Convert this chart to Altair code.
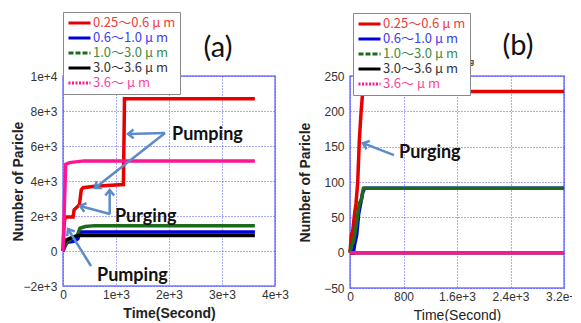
import math
import altair as alt
import pandas as pd

# ---------------- data ----------------
SERIES = ["0.25〜0.6 μ m", "0.6〜1.0 μ m", "1.0〜3.0 μ m", "3.0〜3.6 μ m", "3.6〜 μ m"]
LINE_COLORS = ["#e60000", "#0000dd", "#1b6b1b", "#000000", "#ff1493"]
LABEL_COLORS = ["#f03c3c", "#3c3cf0", "#3f8a3f", "#333333", "#ff3fa0"]

# panel (a)
a_red_t = [0, 20, 40, 190, 210, 310, 345, 380, 600, 1140, 1148, 1152, 1160, 3620]
a_red_v = [0, 1500, 1950, 1950, 2350, 2650, 3500, 3620, 3700, 3800, 5800, 6600, 8700, 8700]
a_blue_t = [0, 40, 80, 200, 280, 320, 3620]
a_blue_v = [0, 300, 500, 550, 700, 1080, 1080]
a_green_t = [0, 60, 200, 270, 320, 420, 600, 3620]
a_green_v = [0, 500, 800, 900, 1300, 1400, 1450, 1450]
a_black_t = [0, 40, 150, 300, 3620]
a_black_v = [0, 600, 750, 880, 880]
a_pink_t = [0, 30, 50, 120, 400, 3620]
a_pink_v = [0, 3000, 4950, 5050, 5150, 5150]

# panel (b)
b_red_t = [0, 20, 40, 65, 90, 115, 140, 165, 190, 3200]
b_red_v = [0, 25, 30, 52, 70, 99, 160, 198, 228, 228]
b_blue_t = [0, 50, 70, 100, 130, 160, 190, 220, 3200]
b_blue_v = [0, 0, 12, 25, 55, 70, 85, 91, 91]
b_green_t = [0, 20, 50, 80, 110, 140, 170, 200, 3200]
b_green_v = [0, 10, 15, 30, 50, 70, 75, 91, 91]
b_black_t = [0, 3200]
b_black_v = [0, 0]
b_pink_t = [0, 3200]
b_pink_v = [0, 0]

# annotations (a)
a_note_text = ["Pumping", "Purging", "Pumping"]
a_note_t = [2057, 981, 642]
a_note_v = [6629, 1943, -1429]
a_arrow_t = [1925, 1925, 887, 881, 528]
a_arrow_v = [6743, 6743, 2114, 2114, -857]
a_arrow_t2 = [1226, 604, 321, 881, 94]
a_arrow_v2 = [6686, 3600, 2571, 3486, 1257]

# annotations (b)
b_note_text = ["Purging"]
b_note_t = [733]
b_note_v = [141]
b_arrow_t = [658]
b_arrow_v = [138]
b_arrow_t2 = [194]
b_arrow_v2 = [155]
b_hidden_text = ["Purging"]  # small label mostly hidden behind the legend

ARROW_COLOR = "#5b8cc8"
GRID_COLOR = "#3a3aff"


def long_df(ts, vs):
    rows = []
    for s, t_list, v_list in zip(SERIES, ts, vs):
        for i, (t, v) in enumerate(zip(t_list, v_list)):
            rows.append({"series": s, "t": t, "v": v, "i": i})
    return pd.DataFrame(rows)


def js_list(items):
    return "[" + ",".join("'" + x + "'" for x in items) + "]"


idx = "indexof(" + js_list(SERIES) + ", datum.value)"
label_color_expr = js_list(LABEL_COLORS) + "[" + idx + "]"
dash_expr = "[[],[],[5,2],[],[2,1.5]][" + idx + "]"


def panel(df, xdom, ydom, w, h, xfmt, yfmt, xtitle_bold, notes, arrows,
          tag, tag_x, tag_y, leg_x, leg_y, hidden=None):
    xs = alt.Scale(domain=xdom, nice=False, zero=False)
    ys = alt.Scale(domain=ydom, nice=False, zero=False)
    xstep = (xdom[1] - xdom[0]) / 4
    ystep = (ydom[1] - ydom[0]) / 6
    xvals = [xdom[0] + k * xstep for k in range(5)]
    yvals = [ydom[0] + k * ystep for k in range(7)]
    common = dict(domain=False, ticks=False, grid=True, gridColor=GRID_COLOR,
                  gridDash=[1, 2], gridOpacity=0.85, gridWidth=1,
                  labelFont="Liberation Sans", labelFontSize=12, labelFlush=False,
                  labelColor="#333333", titleFont="Liberation Sans",
                  titleFontSize=14, titleColor="#222222", labelOverlap=False)
    xaxis = alt.Axis(title="Time(Second)", values=xvals, labelExpr=xfmt,
                     titleFontWeight="bold" if xtitle_bold else "normal",
                     titlePadding=6, labelPadding=3, **common)
    yaxis = alt.Axis(title="Number of Paricle", values=yvals, labelExpr=yfmt,
                     titleFontWeight="bold", labelPadding=6,
                     titleX=-38, titleY=h / 2, **common)
    X = alt.X("t:Q", scale=xs, axis=xaxis)
    Y = alt.Y("v:Q", scale=ys, axis=yaxis)

    legend = alt.Legend(
        orient="none", legendX=leg_x, legendY=leg_y, title=None,
        symbolType="M-1,0H3", symbolSize=121, symbolStrokeWidth=3,
        symbolDash={"expr": dash_expr},
        labelColor={"expr": label_color_expr},
        labelFont="Noto Sans CJK JP", labelFontSize=13, labelOffset=12,
        rowPadding=1, padding=4, strokeColor="#8a8a8a", fillColor="white",
        cornerRadius=0,
    )
    lines = alt.Chart(df).mark_line(strokeWidth=3.5).encode(
        x=X, y=Y,
        color=alt.Color("series:N", scale=alt.Scale(domain=SERIES, range=LINE_COLORS),
                        legend=legend),
        order=alt.Order("i:Q"),
    )

    nt, nv, ntext = notes
    ndf = pd.DataFrame({"t": nt, "v": nv, "label": ntext})
    texts = alt.Chart(ndf).mark_text(
        align="left", baseline="middle", font="Lato", fontWeight="bold",
        fontSize=18, color="#111111"
    ).encode(x=X, y=Y, text="label:N")

    at, av, at2, av2 = arrows
    sx = w / (xdom[1] - xdom[0])
    sy = h / (ydom[1] - ydom[0])
    angles = []
    for t1, v1, t2, v2 in zip(at, av, at2, av2):
        dx = (t2 - t1) * sx
        dy = -(v2 - v1) * sy
        angles.append(math.degrees(math.atan2(dy, dx)) % 360)
    adf = pd.DataFrame({"t": at, "v": av, "t2": at2, "v2": av2, "ang": angles})
    shafts = alt.Chart(adf).mark_rule(color=ARROW_COLOR, strokeWidth=2.5).encode(
        x=X, y=Y, x2="t2:Q", y2="v2:Q"
    )
    heads = alt.Chart(adf).mark_point(
        shape="M-1.4,-1.1L0,0L-1.4,1.1", filled=False, color=ARROW_COLOR,
        strokeWidth=2.5, size=64, opacity=1
    ).encode(
        x=alt.X("t2:Q", scale=xs, axis=xaxis),
        y=alt.Y("v2:Q", scale=ys, axis=yaxis),
        angle=alt.Angle("ang:Q", scale=None),
    )

    tag_df = pd.DataFrame({"label": [tag]})
    tag_mark = alt.Chart(tag_df).mark_text(
        font="Lato", fontSize=29, color="#111111", align="center", baseline="middle"
    ).encode(x=alt.value(tag_x), y=alt.value(tag_y), text="label:N")

    layers = [lines, shafts, heads, texts, tag_mark]
    if hidden is not None:
        htext, hx, hy = hidden
        hid = alt.Chart(pd.DataFrame({"label": htext})).mark_text(
            font="Liberation Sans", fontSize=7, fontWeight="bold", color="#222222",
            align="right", baseline="middle"
        ).encode(x=alt.value(hx), y=alt.value(hy), text="label:N")
        layers.insert(0, hid)
    return alt.layer(*layers).properties(width=w, height=h)


df_a = long_df([a_red_t, a_blue_t, a_green_t, a_black_t, a_pink_t],
               [a_red_v, a_blue_v, a_green_v, a_black_v, a_pink_v])
df_b = long_df([b_red_t, b_blue_t, b_green_t, b_black_t, b_pink_t],
               [b_red_v, b_blue_v, b_green_v, b_black_v, b_pink_v])

fmt_a = "datum.value == 0 ? '0' : format(datum.value, '.0e')"
fmt_bx = "datum.value < 1000 ? format(datum.value, 'd') : format(datum.value, '.1e')"
fmt_by = "format(datum.value, 'd')"

pa = panel(df_a, [0, 4000], [-2000, 10000], 212, 210, fmt_a, fmt_a, True,
           (a_note_t, a_note_v, a_note_text),
           (a_arrow_t, a_arrow_v, a_arrow_t2, a_arrow_v2),
           "(a)", 155, -28, 0, -64)
pb = panel(df_b, [0, 3200], [-50, 250], 214, 212, fmt_bx, fmt_by, False,
           (b_note_t, b_note_v, b_note_text),
           (b_arrow_t, b_arrow_v, b_arrow_t2, b_arrow_v2),
           "(b)", 168, -30, 3, -63, hidden=(b_hidden_text, 124, -14))

chart = alt.hconcat(pa, pb, spacing=7).resolve_scale(
    color="independent", x="independent", y="independent"
).resolve_legend(color="independent").properties(
    padding={"left": 2, "top": 2, "right": -12, "bottom": -2},
    background="white",
).configure_view(
    stroke="#7b7bff", strokeWidth=1.5, fill="white"
).configure_axis(
    domain=False, ticks=False, grid=True, gridColor=GRID_COLOR, gridDash=[1, 2],
    gridOpacity=0.85, gridWidth=1, labelFont="Liberation Sans", labelFontSize=12,
    labelColor="#333333", titleFont="Liberation Sans", titleFontSize=14,
    titleColor="#222222", labelOverlap=False, labelFlush=False,
)

chart.save("out.html", embed_options={"renderer": "svg", "actions": False})
